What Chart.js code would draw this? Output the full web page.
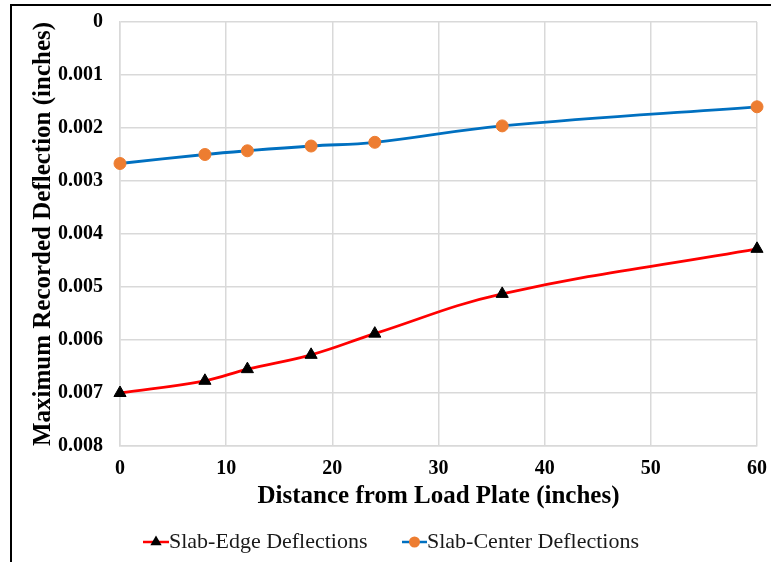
<!DOCTYPE html>
<html>
<head>
<meta charset="utf-8">
<script src="https://cdn.jsdelivr.net/npm/chart.js@4.4.1/dist/chart.umd.min.js"></script>
<style>
  html, body { margin: 0; padding: 0; background: #ffffff; overflow: hidden; }
  #wrap { position: relative; width: 771px; height: 562px; }
  #frame { position: absolute; left: 10px; top: 4px; width: 900px; height: 700px;
           border-left: 2px solid #000; border-top: 2px solid #000; }
  canvas { position: absolute; left: 0; top: 0; }
</style>
</head>
<body>
<div id="wrap">
  <div id="frame"></div>
  <canvas id="c" width="771" height="562"></canvas>
</div>
<script>
// ---- data ----
const distances = [0, 8, 12, 18, 24, 36, 60];
const edgeDeflections = [0.00700, 0.00677, 0.00655, 0.00628, 0.00588, 0.00513, 0.00428];
const centerDeflections = [0.00267, 0.00250, 0.00243, 0.00234, 0.00227, 0.00196, 0.00160];
const seriesNames = ['Slab-Edge Deflections', 'Slab-Center Deflections'];
const yTickLabels = ['0', '0.001', '0.002', '0.003', '0.004', '0.005', '0.006', '0.007', '0.008'];
const xTickLabels = ['0', '10', '20', '30', '40', '50', '60'];
const xTitle = 'Distance from Load Plate (inches)';
const yTitle = 'Maximum Recorded Deflection (inches)';

const toPoints = (vals) => distances.map((d, i) => ({ x: d, y: vals[i] }));

const FONT = '"Liberation Serif", "Times New Roman", serif';

const legendPlugin = {
  id: 'customLegend',
  afterDraw(chart) {
    const ctx = chart.ctx;
    const y = 542;
    const items = [
      { x0: 143, x1: 169, ds: chart.data.datasets[0] },
      { x0: 402, x1: 427, ds: chart.data.datasets[1] }
    ];
    ctx.save();
    items.forEach(it => {
      ctx.strokeStyle = it.ds.borderColor;
      ctx.lineWidth = 2.5;
      ctx.beginPath();
      ctx.moveTo(it.x0, y);
      ctx.lineTo(it.x1, y);
      ctx.stroke();
      const cx = (it.x0 + it.x1) / 2;
      ctx.fillStyle = it.ds.pointBackgroundColor;
      ctx.beginPath();
      if (it.ds.pointStyle === 'triangle') {
        const r = 6.5;
        ctx.moveTo(cx, y - r);
        ctx.lineTo(cx + r * 0.866, y + r * 0.5);
        ctx.lineTo(cx - r * 0.866, y + r * 0.5);
        ctx.closePath();
      } else {
        ctx.arc(cx, y, 5.5, 0, Math.PI * 2);
      }
      ctx.fill();
      ctx.fillStyle = '#1a1a1a';
      ctx.font = '22px ' + FONT;
      ctx.textAlign = 'left';
      ctx.textBaseline = 'middle';
      ctx.fillText(it.ds.label, it.x1, y);
    });
    ctx.restore();
  }
};

new Chart(document.getElementById('c'), {
  type: 'line',
  data: {
    datasets: [
      {
        label: seriesNames[0],
        data: toPoints(edgeDeflections),
        borderColor: '#ff0000',
        borderWidth: 2.8,
        tension: 0.4,
        pointStyle: 'triangle',
        pointRadius: 7,
        pointHoverRadius: 7,
        pointBackgroundColor: '#000000',
        pointBorderColor: '#000000',
        pointBorderWidth: 1,
        clip: false
      },
      {
        label: seriesNames[1],
        data: toPoints(centerDeflections),
        borderColor: '#0070c0',
        borderWidth: 2.8,
        tension: 0.4,
        pointStyle: 'circle',
        pointRadius: 6,
        pointHoverRadius: 6,
        pointBackgroundColor: '#ed7d31',
        pointBorderColor: '#ed7d31',
        pointBorderWidth: 1,
        clip: false
      }
    ]
  },
  options: {
    responsive: false,
    devicePixelRatio: 1,
    animation: false,
    layout: { padding: { left: 25, right: 14, top: 22, bottom: 46 } },
    plugins: {
      legend: { display: false },
      tooltip: { enabled: false }
    },
    scales: {
      x: {
        type: 'linear',
        min: 0, max: 60,
        ticks: {
          stepSize: 10,
          padding: 11,
          color: '#000',
          font: { family: FONT, size: 20, weight: 'bold' },
          callback: (v) => xTickLabels[Math.round(v / 10)]
        },
        grid: { color: '#d9d9d9', lineWidth: 1.5, drawTicks: false },
        border: { display: true, color: '#d9d9d9', width: 1.5 },
        title: {
          display: true, text: xTitle, color: '#000',
          font: { family: FONT, size: 25, weight: 'bold' },
          padding: { top: 4, bottom: 4 }
        },
        afterFit: (s) => { s.height = 70; s.paddingLeft = 0; s.paddingRight = 0; }
      },
      y: {
        type: 'linear',
        reverse: true,
        min: 0, max: 0.008,
        ticks: {
          stepSize: 0.001,
          padding: 17,
          color: '#000',
          font: { family: FONT, size: 20, weight: 'bold' },
          callback: (v) => yTickLabels[Math.round(v / 0.001)]
        },
        grid: { color: '#d9d9d9', lineWidth: 1.5, drawTicks: false },
        border: { display: true, color: '#d9d9d9', width: 1.5 },
        title: {
          display: true, text: yTitle, color: '#000',
          font: { family: FONT, size: 25, weight: 'bold' },
          padding: { top: 4, bottom: 4 }
        },
        afterFit: (s) => { s.width = 95; s.paddingTop = 0; s.paddingBottom = 0; }
      }
    }
  },
  plugins: [legendPlugin]
});
</script>
</body>
</html>
